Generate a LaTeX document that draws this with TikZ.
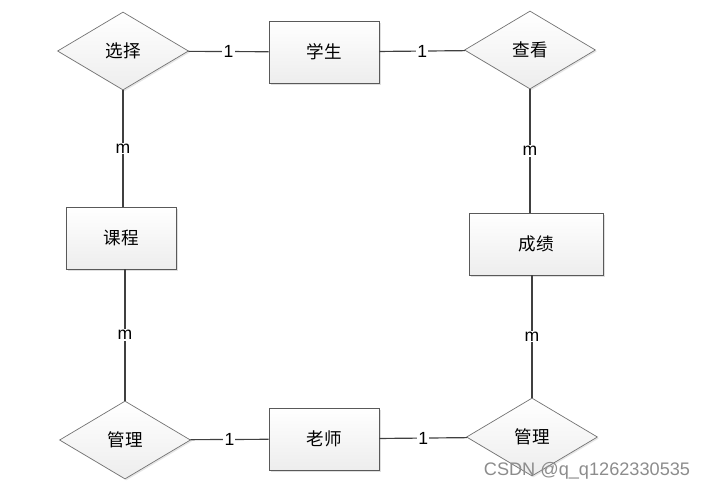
\documentclass[tikz,border=0pt]{standalone}
\usepackage{fontspec}
\setmainfont{Noto Sans CJK SC}
\newfontfamily\markfont{Liberation Sans}
\usetikzlibrary{shapes.geometric,shadows}
\begin{document}
\begin{tikzpicture}[x=0.03cm,y=-0.03cm,inner sep=0.7mm,
  entity/.style={rectangle,draw=black!65,line width=0.75pt,top color=white,bottom color=black!7,
    drop shadow={opacity=0.25,shadow xshift=1.3pt,shadow yshift=-1.3pt},
    minimum width=3.3cm,minimum height=1.86cm,font=\fontsize{15}{18}\selectfont},
  relation/.style={diamond,draw=black!55,line width=0.6pt,top color=white,bottom color=black!7,
    drop shadow={opacity=0.2,shadow xshift=1.2pt,shadow yshift=-1.2pt},
    minimum width=3.93cm,minimum height=2.34cm,inner sep=0pt,font=\fontsize{15}{18}\selectfont},
  card/.style={fill=white,inner sep=1pt,font=\markfont\fontsize{15}{17}\selectfont},
  link/.style={draw=black!75,line width=1pt}]
\useasboundingbox (0,0) rectangle (707,491);
\node (xuanze) at (123,51) [relation] {选择};
\node (xuesheng) at (324,52) [entity] {学生};
\node (chakan) at (530,50) [relation] {查看};
\node (kecheng) at (121,238) [entity] {课程};
\node (chengji) at (536,244) [entity,minimum width=4.02cm] {成绩};
\node (guanli1) at (125,440) [relation] {管理};
\node (laoshi) at (324,439) [entity] {老师};
\node (guanli2) at (532,437) [relation] {管理};
\draw [link] (xuanze) -- (xuesheng) node [midway,card] {1};
\draw [link] (xuesheng) -- (chakan) node [midway,card] {1};
\draw [link] (xuanze) -- (xuanze |- kecheng.north) node [midway,card] {m};
\draw [link] (kecheng.south -| guanli1) -- (guanli1) node [midway,card] {m};
\draw [link] (chakan) -- (chakan |- chengji.north) node [midway,card] {m};
\draw [link] (chengji.south -| guanli2) -- (guanli2) node [midway,card] {m};
\draw [link] (guanli1) -- (laoshi) node [midway,card] {1};
\draw [link] (laoshi) -- (guanli2) node [midway,card] {1};
\node (mark) at (587,471) [text=black!45,font=\markfont\fontsize{15.5}{17}\selectfont] {CSDN @q\_q1262330535};
\end{tikzpicture}
\end{document}
